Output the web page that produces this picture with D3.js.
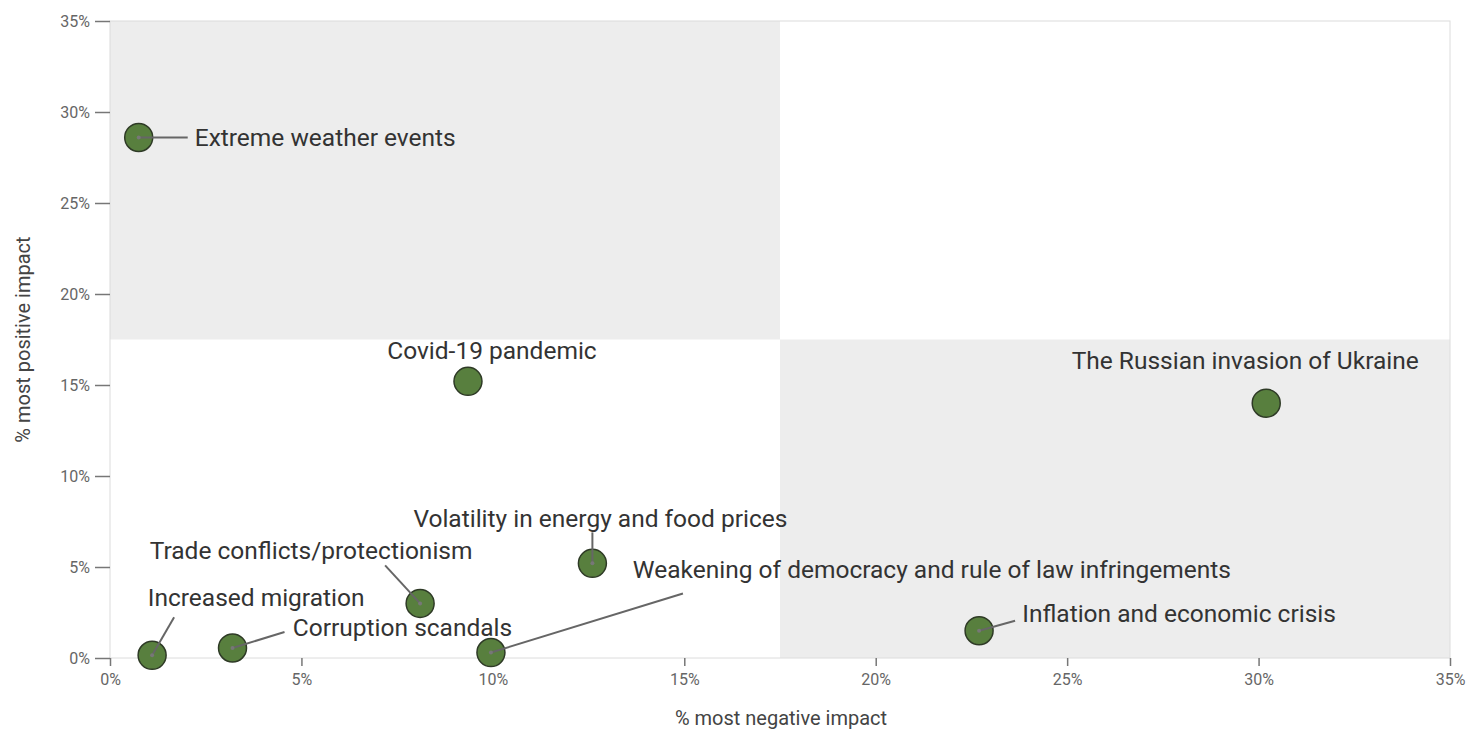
<!DOCTYPE html>
<html>
<head>
<meta charset="utf-8">
<script src="https://cdn.jsdelivr.net/npm/d3@7"></script>
<style>
	body { margin: 0; background: #fff; }
	svg { display: block; overflow: hidden; }
	text { font-family: Roboto, "Noto Sans", sans-serif; }
</style>
</head>
<body>
<svg id="chart"></svg>
<script>
// data (percent)
let issues = [
	'Extreme weather events',
	'Covid-19 pandemic',
	'The Russian invasion of Ukraine',
	'Volatility in energy and food prices',
	'Trade conflicts/protectionism',
	'Increased migration',
	'Corruption scandals',
	'Weakening of democracy and rule of law infringements',
	'Inflation and economic crisis'
];
let negativeImpact = [0.75, 9.35, 30.2, 12.6, 8.1, 1.1, 3.2, 9.95, 22.7];
let positiveImpact = [28.6, 15.2, 14.0, 5.2, 3.0, 0.15, 0.55, 0.3, 1.5];
let tickValues = [0, 5, 10, 15, 20, 25, 30, 35];

// label placement relative to each dot (pixels): text anchor point + leader line start
let labelLayout = [
	{dx: 56, dy: 0, anchor: 'start', line: [49, 0]},
	{dx: 24, dy: -31, anchor: 'middle', line: null},
	{dx: -21, dy: -43, anchor: 'middle', line: null},
	{dx: 8, dy: -45, anchor: 'middle', line: [0, -31]},
	{dx: -109, dy: -53, anchor: 'middle', line: [-35, -38]},
	{dx: 104, dy: -58, anchor: 'middle', line: [22, -38]},
	{dx: 170, dy: -21, anchor: 'middle', line: [52, -16]},
	{dx: 441, dy: -83, anchor: 'middle', line: [192, -59]},
	{dx: 200, dy: -17, anchor: 'middle', line: [36, -10]}
];

let data = issues.map((name, i) => ({name: name, x: negativeImpact[i], y: positiveImpact[i], lab: labelLayout[i]}));

let width = 1478;
let height = 734;
let margin = {top: 21, right: 28, bottom: 76, left: 110};

let svg = d3.select('#chart')
	.attr('width', width)
	.attr('height', height);

let x = d3.scaleLinear().domain([0, 35]).range([margin.left, width - margin.right]);
let y = d3.scaleLinear().domain([0, 35]).range([height - margin.bottom, margin.top]);

// quadrant shading
let quadrants = [
	{x0: 0, x1: 17.5, y0: 17.5, y1: 35},
	{x0: 17.5, x1: 35, y0: 0, y1: 17.5}
];
svg.append('g')
	.selectAll('rect')
	.data(quadrants)
	.enter()
	.append('rect')
	.attr('x', d => x(d.x0))
	.attr('y', d => y(d.y1))
	.attr('width', d => x(d.x1) - x(d.x0))
	.attr('height', d => y(d.y0) - y(d.y1))
	.attr('fill', '#ededed');

// plot frame
svg.append('rect')
	.attr('x', x(0))
	.attr('y', y(35))
	.attr('width', x(35) - x(0))
	.attr('height', y(0) - y(35))
	.attr('fill', 'none')
	.attr('stroke', '#dcdcdc')
	.attr('stroke-width', 1);

// y axis
let yAxis = svg.append('g')
	.attr('transform', 'translate(' + x(0) + ',0)')
	.call(d3.axisLeft(y).tickValues(tickValues).tickFormat(d => d + '%').tickSize(15).tickPadding(5));
yAxis.select('.domain').remove();
yAxis.selectAll('line').attr('stroke', '#777').attr('stroke-width', 1.5);
yAxis.selectAll('text').attr('fill', '#666').style('font-size', '16px');

// x axis
let xAxis = svg.append('g')
	.attr('transform', 'translate(0,' + y(0) + ')')
	.call(d3.axisBottom(x).tickValues(tickValues).tickFormat(d => d + '%').tickSize(8).tickPadding(8));
xAxis.select('.domain').remove();
xAxis.selectAll('line').attr('stroke', '#777').attr('stroke-width', 1.5);
xAxis.selectAll('text').attr('fill', '#666').style('font-size', '16px');

// axis titles
svg.append('text')
	.attr('x', (x(0) + x(35)) / 2 + 1)
	.attr('y', 725)
	.attr('text-anchor', 'middle')
	.attr('fill', '#444')
	.style('font-size', '20px')
	.text('% most negative impact');

svg.append('text')
	.attr('transform', 'translate(30,' + (y(17.5)) + ') rotate(-90)')
	.attr('text-anchor', 'middle')
	.attr('fill', '#444')
	.style('font-size', '20px')
	.text('% most positive impact');

// dots
svg.append('g')
	.selectAll('circle')
	.data(data)
	.enter()
	.append('circle')
	.attr('cx', d => x(d.x))
	.attr('cy', d => y(d.y))
	.attr('r', 14)
	.attr('fill', '#587f3e')
	.attr('stroke', '#2e3a26')
	.attr('stroke-width', 1.5);

// leader lines
let withLines = data.filter(d => d.lab.line);
let leaders = svg.append('g');
leaders.selectAll('line')
	.data(withLines)
	.enter()
	.append('line')
	.attr('x1', d => x(d.x) + d.lab.line[0])
	.attr('y1', d => y(d.y) + d.lab.line[1])
	.attr('x2', d => x(d.x))
	.attr('y2', d => y(d.y))
	.attr('stroke', '#666')
	.attr('stroke-width', 2);
leaders.selectAll('circle')
	.data(withLines)
	.enter()
	.append('circle')
	.attr('cx', d => x(d.x))
	.attr('cy', d => y(d.y))
	.attr('r', 2)
	.attr('fill', '#777');

// labels
svg.append('g')
	.selectAll('text')
	.data(data)
	.enter()
	.append('text')
	.attr('x', d => x(d.x) + d.lab.dx)
	.attr('y', d => y(d.y) + d.lab.dy)
	.attr('dy', '0.35em')
	.attr('text-anchor', d => d.lab.anchor)
	.attr('fill', '#333')
	.style('font-size', '24.5px')
	.text(d => d.name);
</script>
</body>
</html>
